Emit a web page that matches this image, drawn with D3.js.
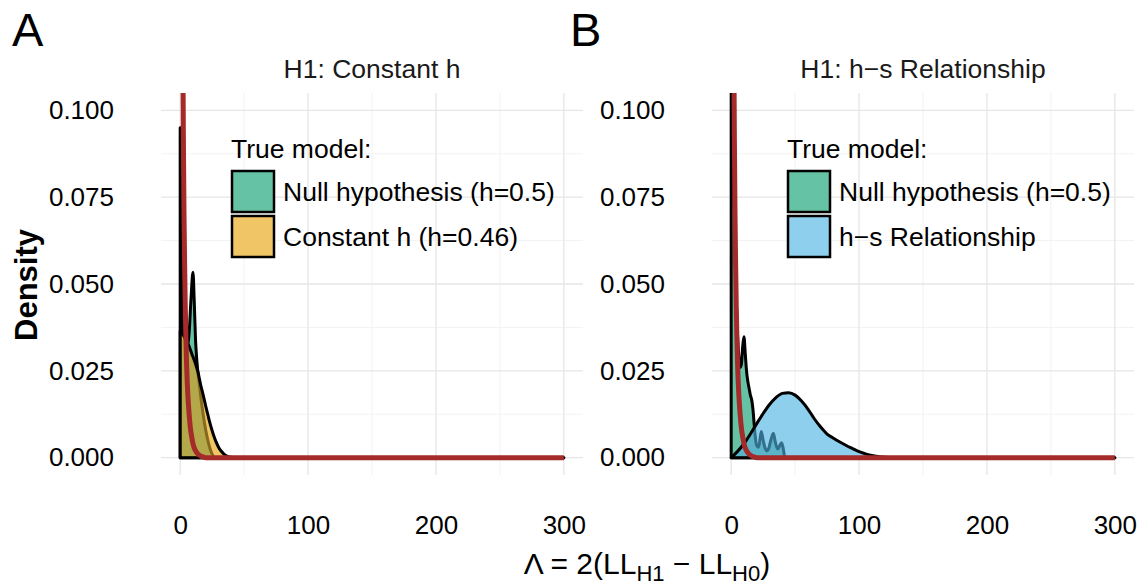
<!DOCTYPE html>
<html>
<head>
<meta charset="utf-8">
<script src="https://cdn.jsdelivr.net/npm/d3@7/dist/d3.min.js"></script>
<style>
  body { margin: 0; background: #fff; }
  text { font-family: "Liberation Sans", Arial, Helvetica, sans-serif; fill: #000; }
</style>
</head>
<body>
<svg id="chart" width="1139" height="586"></svg>
<script>
// ---- data ----
var xTicks = [0, 100, 200, 300];
var xMinor = [50, 150, 250];
var yTicks = [0, 0.025, 0.05, 0.075, 0.1];
var yMinor = [0.0125, 0.0375, 0.0625, 0.0875];

var panelLetters = ['A', 'B'];
var panelTitles = ['H1: Constant h', 'H1: h\u2212s Relationship'];
var legendTitle = 'True model:';
var legendLabelsA = ['Null hypothesis (h=0.5)', 'Constant h (h=0.46)'];
var legendLabelsB = ['Null hypothesis (h=0.5)', 'h\u2212s Relationship'];

// panel A, true model = null hypothesis
var nullA_x = [0, 0.5, 1.0, 1.5, 2, 3, 4.5, 6, 7, 8.5, 10, 11, 12, 13, 15, 17, 19, 21, 23, 25, 27, 300];
var nullA_y = [0.095, 0.095, 0.075, 0.05, 0.037, 0.035, 0.034, 0.033, 0.036, 0.046, 0.0534, 0.045, 0.034, 0.028, 0.021, 0.015, 0.010, 0.006, 0.003, 0.001, 0, 0];

// panel A, true model = constant h
var constA_x = [0, 3, 6, 9, 12, 14, 16, 18, 20, 22, 24, 26, 28, 30, 32, 34, 37, 40, 44, 300];
var constA_y = [0.0365, 0.035, 0.033, 0.030, 0.027, 0.0245, 0.021, 0.018, 0.0148, 0.0118, 0.009, 0.0066, 0.0046, 0.003, 0.0019, 0.0011, 0.0004, 0.0001, 0, 0];

// panel B, true model = null hypothesis
var nullB_x = [0, 0.4, 1, 2, 3, 4, 5, 6, 7, 8, 9, 10, 11, 12, 13, 14, 15, 16, 17, 18, 19, 20, 21.5, 23.5, 25, 26.5, 28, 29.5, 31, 33, 34.5, 36.5, 38, 39.5, 41, 42, 300];
var nullB_y = [0.3, 0.2, 0.13, 0.085, 0.06, 0.045, 0.035, 0.029, 0.026, 0.027, 0.032, 0.0348, 0.03, 0.025, 0.022, 0.02, 0.018, 0.0167, 0.014, 0.0095, 0.0055, 0.0035, 0.003, 0.0075, 0.005, 0.0028, 0.002, 0.0028, 0.005, 0.007, 0.0045, 0.0025, 0.0035, 0.0043, 0.002, 0, 0];

// panel B, true model = h-s relationship
var hsB_x = [0, 5, 10, 15, 20, 25, 30, 35, 40, 45, 50, 55, 60, 65, 70, 75, 80, 85, 90, 95, 100, 105, 110, 115, 120, 125, 300];
var hsB_y = [0, 0.0018, 0.004, 0.0068, 0.0098, 0.0127, 0.0153, 0.0173, 0.0185, 0.0187, 0.018, 0.0163, 0.014, 0.0112, 0.0088, 0.0068, 0.0056, 0.0045, 0.0035, 0.0026, 0.0017, 0.0011, 0.0006, 0.0003, 0.0001, 0, 0];

// theoretical null distribution (red line), same in both panels
var chi_x = [0.15, 0.4, 0.8, 1.2, 1.6, 2, 2.5, 3, 3.5, 4, 4.5, 5, 6, 7, 8, 9, 10, 12, 14, 17, 20, 300];
var chi_y = [1.0, 0.6, 0.38, 0.25, 0.17, 0.125, 0.092, 0.07, 0.055, 0.043, 0.034, 0.027, 0.018, 0.0125, 0.0085, 0.006, 0.004, 0.002, 0.001, 0.0003, 0, 0];

// ---- drawing ----
var svg = d3.select('#chart'),
    defs = svg.append('defs'),
    plotTop = 93,
    plotBottom = 475,
    teal = '#66c2a5',
    red = '#a52a2a';

var y = d3.scaleLinear().domain([-0.005, 0.105]).range([plotBottom, plotTop]);

function zip(xs, ys) {
    return xs.map(function(v, i) { return [v, ys[i]]; });
}

var panels = [
    { id: 'a', left: 161, right: 583, letterX: 12,
      back: zip(nullA_x, nullA_y), front: zip(constA_x, constA_y),
      frontColor: '#f0c566', overlapColor: '#b3a84a', hiddenLine: '#86691c',
      legendX: 231, labels: legendLabelsA },
    { id: 'b', left: 712, right: 1134, letterX: 570,
      back: zip(nullB_x, nullB_y), front: zip(hsB_x, hsB_y),
      frontColor: '#8fcfee', overlapColor: '#5bb5c9', hiddenLine: '#336f8d',
      legendX: 787, labels: legendLabelsB }
];

panels.forEach(drawPanel);

function drawPanel(p, i) {
    var x = d3.scaleLinear().domain([-15, 315]).range([p.left, p.right]);
    var g = svg.append('g');

    // gridlines
    var grid = g.append('g');
    grid.selectAll('.minor-x').data(xMinor).enter().append('line')
        .attr('x1', x).attr('x2', x).attr('y1', plotTop).attr('y2', plotBottom)
        .attr('stroke', '#f2f2f2').attr('stroke-width', 1);
    grid.selectAll('.minor-y').data(yMinor).enter().append('line')
        .attr('x1', p.left).attr('x2', p.right).attr('y1', y).attr('y2', y)
        .attr('stroke', '#f2f2f2').attr('stroke-width', 1);
    grid.selectAll('.major-x').data(xTicks).enter().append('line')
        .attr('x1', x).attr('x2', x).attr('y1', plotTop).attr('y2', plotBottom)
        .attr('stroke', '#e6e6e6').attr('stroke-width', 1.3);
    grid.selectAll('.major-y').data(yTicks).enter().append('line')
        .attr('x1', p.left).attr('x2', p.right).attr('y1', y).attr('y2', y)
        .attr('stroke', '#e6e6e6').attr('stroke-width', 1.3);

    // axes (labels only)
    var xAxis = g.append('g')
        .attr('transform', 'translate(0,' + plotBottom + ')')
        .call(d3.axisBottom(x).tickValues(xTicks).tickSize(0).tickPadding(41));
    var yAxis = g.append('g')
        .attr('transform', 'translate(' + p.left + ',0)')
        .call(d3.axisLeft(y).tickValues(yTicks).tickFormat(d3.format('.3f')).tickSize(0).tickPadding(47));
    [xAxis, yAxis].forEach(function(a) {
        a.select('.domain').remove();
        a.selectAll('text').attr('font-size', 26).attr('font-family', null).attr('fill', '#000');
    });

    // clip regions
    defs.append('clipPath').attr('id', 'clip-' + p.id).append('rect')
        .attr('x', p.left).attr('y', plotTop)
        .attr('width', p.right - p.left).attr('height', plotBottom - plotTop);

    var area = d3.area()
        .x(function(d) { return x(d[0]); })
        .y0(y(0))
        .y1(function(d) { return y(d[1]); })
        .curve(d3.curveMonotoneX);
    var line = d3.line()
        .x(function(d) { return x(d[0]); })
        .y(function(d) { return y(d[1]); })
        .curve(d3.curveMonotoneX);

    defs.append('clipPath').attr('id', 'front-' + p.id).append('path')
        .attr('d', area(p.front));

    var plot = g.append('g').attr('clip-path', 'url(#clip-' + p.id + ')');

    // null hypothesis density (behind)
    plot.append('path').attr('d', area(p.back)).attr('fill', teal);
    plot.append('path').attr('d', area(p.back))
        .attr('fill', 'none').attr('stroke', '#000').attr('stroke-width', 3)
        .attr('stroke-linejoin', 'round');

    // alternative density on top, with the overlap showing through
    plot.append('path').attr('d', area(p.front)).attr('fill', p.frontColor);
    var overlap = plot.append('g').attr('clip-path', 'url(#front-' + p.id + ')');
    overlap.append('path').attr('d', area(p.back)).attr('fill', p.overlapColor);
    overlap.append('path').attr('d', area(p.back))
        .attr('fill', 'none').attr('stroke', p.hiddenLine).attr('stroke-width', 3);
    plot.append('path').attr('d', area(p.front))
        .attr('fill', 'none').attr('stroke', '#000').attr('stroke-width', 3)
        .attr('stroke-linejoin', 'round');

    // theoretical curve
    plot.append('path').attr('d', line(zip(chi_x, chi_y)))
        .attr('fill', 'none').attr('stroke', red).attr('stroke-width', 5);

    // facet title and panel letter
    svg.append('text')
        .attr('x', (p.left + p.right) / 2).attr('y', 78)
        .attr('text-anchor', 'middle').attr('font-size', 26.5).style('fill', '#1a1a1a')
        .text(panelTitles[i]);
    svg.append('text')
        .attr('x', p.letterX).attr('y', 46)
        .attr('font-size', 47)
        .text(panelLetters[i]);

    // legend
    var lg = svg.append('g').attr('transform', 'translate(' + p.legendX + ',0)');
    lg.append('text').attr('x', 0).attr('y', 158).attr('font-size', 26.5).text(legendTitle);
    var keys = lg.selectAll('.key').data(p.labels).enter().append('g')
        .attr('transform', function(d, k) { return 'translate(0,' + (171 + k * 45) + ')'; });
    keys.append('rect')
        .attr('x', 1).attr('y', 0).attr('width', 42).attr('height', 41)
        .attr('fill', function(d, k) { return k === 0 ? teal : p.frontColor; })
        .attr('stroke', '#000').attr('stroke-width', 2.5);
    keys.append('text')
        .attr('x', 52).attr('y', 30).attr('font-size', 26.5)
        .text(function(d) { return d; });
}

// shared axis titles
svg.append('text')
    .attr('transform', 'translate(37,285) rotate(-90)')
    .attr('text-anchor', 'middle').attr('font-size', 31).attr('font-weight', 'bold')
    .text('Density');

var xTitle = svg.append('text')
    .attr('x', 647).attr('y', 574)
    .attr('text-anchor', 'middle').attr('font-size', 30);
xTitle.append('tspan').text('\u039B = 2(LL');
xTitle.append('tspan').attr('font-size', 22).attr('dy', 7).text('H1');
xTitle.append('tspan').attr('dy', -7).text(' \u2212 LL');
xTitle.append('tspan').attr('font-size', 22).attr('dy', 7).text('H0');
xTitle.append('tspan').attr('dy', -7).text(')');
</script>
</body>
</html>
